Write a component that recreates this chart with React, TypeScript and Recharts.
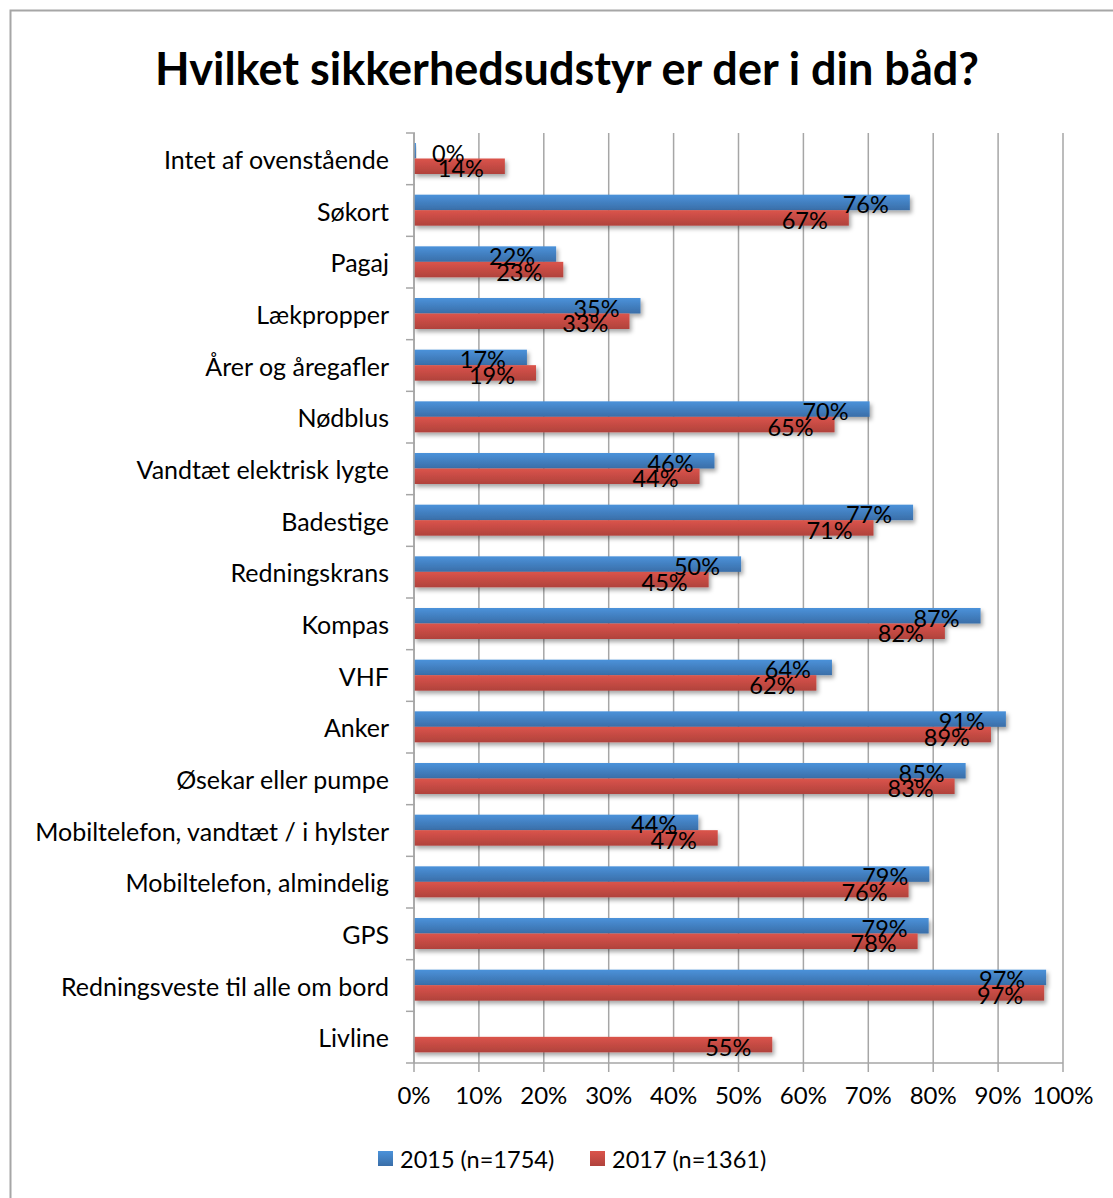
import React from 'react';
import { BarChart, Bar, XAxis, YAxis, CartesianGrid, LabelList } from 'recharts';

const categories = [
  'Intet af ovenstående',
  'Søkort',
  'Pagaj',
  'Lækpropper',
  'Årer og åregafler',
  'Nødblus',
  'Vandtæt elektrisk lygte',
  'Badestige',
  'Redningskrans',
  'Kompas',
  'VHF',
  'Anker',
  'Øsekar eller pumpe',
  'Mobiltelefon, vandtæt / i hylster',
  'Mobiltelefon, almindelig',
  'GPS',
  'Redningsveste til alle om bord',
  'Livline',
];

const values2015: (number | null)[] = [
  0.3, 76.4, 21.9, 34.9, 17.4, 70.2, 46.3, 76.9, 50.4, 87.3, 64.4, 91.2, 85.0, 43.8, 79.4, 79.3, 97.4, null,
];
const values2017: (number | null)[] = [
  14.0, 67.0, 23.0, 33.2, 18.8, 64.8, 44.0, 70.8, 45.4, 81.8, 62.0, 88.9, 83.3, 46.8, 76.2, 77.6, 97.1, 55.2,
];

const xTicks = [0, 10, 20, 30, 40, 50, 60, 70, 80, 90, 100];

const data = categories.map((name, i) => ({ name, y2015: values2015[i], y2017: values2017[i] }));

const FONT = 'Lato, sans-serif';
const W = 1113;
const H = 1198;

const BarShape = (props: any) => {
  const { x, y, width, height, fill } = props;
  if (!width || width <= 0) return null;
  return <rect x={x} y={y} width={width} height={height} fill={fill} filter="url(#barShadow)" />;
};

const ValueLabel = (props: any) => {
  const { x, y, width, height, value } = props;
  if (value == null) return null;
  const end = x + width;
  const cy = y + height / 2 + 2;
  const small = width < 40;
  return (
    <text
      x={small ? x + 18 : end - 21}
      y={cy}
      textAnchor={small ? 'start' : 'end'}
      dominantBaseline="central"
      fontFamily={FONT}
      fontSize={23.5}
      fill="#000"
    >
      {Math.round(value)}%
    </text>
  );
};

const CategoryTick = (props: any) => {
  const { x, y, payload, index } = props;
  const half = payload && payload.offset ? payload.offset : 25.85;
  return (
    <g>
      <line x1={x} x2={x + 9} y1={y - half} y2={y - half} stroke="#a6a6a6" strokeWidth={1.5} />
      {index === categories.length - 1 && (
        <line x1={x} x2={x + 9} y1={y + half} y2={y + half} stroke="#a6a6a6" strokeWidth={1.5} />
      )}
      <text x={x - 17} y={y} textAnchor="end" dominantBaseline="central" fontFamily={FONT} fontSize={25} fill="#000">
        {payload.value}
      </text>
    </g>
  );
};

export default function App() {
  return (
    <div style={{ position: 'absolute', left: 0, top: 0, width: W, height: H, background: '#fff' }}>
      <BarChart
        width={W}
        height={H}
        data={data}
        layout="vertical"
        margin={{ top: 133, right: 50, bottom: 75, left: 0 }}
        barCategoryGap={10.4}
        barGap={0}
      >
        <defs>
          <linearGradient id="gBlue" x1="0" y1="0" x2="0" y2="1">
            <stop offset="0%" stopColor="#4b92da" />
            <stop offset="100%" stopColor="#3a6ea8" />
          </linearGradient>
          <linearGradient id="gRed" x1="0" y1="0" x2="0" y2="1">
            <stop offset="0%" stopColor="#db544b" />
            <stop offset="100%" stopColor="#b0423c" />
          </linearGradient>
          <filter id="barShadow" x="-5%" y="-30%" width="115%" height="180%">
            <feDropShadow dx="2" dy="3" stdDeviation="2" floodColor="#000" floodOpacity="0.35" />
          </filter>
        </defs>
        <CartesianGrid horizontal={false} vertical stroke="#a6a6a6" strokeWidth={1.5} />
        <XAxis
          type="number"
          domain={[0, 100]}
          ticks={xTicks}
          interval={0}
          tickFormatter={(v: number) => `${v}%`}
          height={60}
          axisLine={{ stroke: '#a6a6a6', strokeWidth: 1.5 }}
          tickLine={{ stroke: '#a6a6a6', strokeWidth: 1.5 }}
          tickSize={9}
          tickMargin={15}
          tick={{ fontFamily: FONT, fontSize: 24, fill: '#000' }}
        />
        <YAxis
          type="category"
          dataKey="name"
          width={414}
          interval={0}
          axisLine={{ stroke: '#a6a6a6', strokeWidth: 1.5 }}
          tickLine={false}
          tick={<CategoryTick />}
        />
        <Bar dataKey="y2015" fill="url(#gBlue)" barSize={15.5} shape={<BarShape />} isAnimationActive={false}>
          <LabelList dataKey="y2015" content={<ValueLabel />} />
        </Bar>
        <Bar dataKey="y2017" fill="url(#gRed)" barSize={15.5} shape={<BarShape />} isAnimationActive={false}>
          <LabelList dataKey="y2017" content={<ValueLabel />} />
        </Bar>
      </BarChart>
      <svg
        width={W}
        height={H}
        style={{ position: 'absolute', left: 0, top: 0, pointerEvents: 'none' }}
      >
        <path d={`M 10.5 ${H} L 10.5 10.5 L ${W} 10.5`} fill="none" stroke="#a6a6a6" strokeWidth={2} />
        <text x={567} y={85} textAnchor="middle" fontFamily={FONT} fontWeight={700} fontSize={45} fill="#000">
          Hvilket sikkerhedsudstyr er der i din båd?
        </text>
        <rect x={378} y={1151} width={15} height={15} fill="url(#lgBlue)" />
        <text x={400} y={1168} fontFamily={FONT} fontSize={23.5} fill="#000">2015 (n=1754)</text>
        <rect x={590} y={1151} width={15} height={15} fill="url(#lgRed)" />
        <text x={612} y={1168} fontFamily={FONT} fontSize={23.5} fill="#000">2017 (n=1361)</text>
        <defs>
          <linearGradient id="lgBlue" x1="0" y1="0" x2="0" y2="1">
            <stop offset="0%" stopColor="#4b92da" />
            <stop offset="100%" stopColor="#3a6ea8" />
          </linearGradient>
          <linearGradient id="lgRed" x1="0" y1="0" x2="0" y2="1">
            <stop offset="0%" stopColor="#db544b" />
            <stop offset="100%" stopColor="#b0423c" />
          </linearGradient>
        </defs>
      </svg>
    </div>
  );
}
